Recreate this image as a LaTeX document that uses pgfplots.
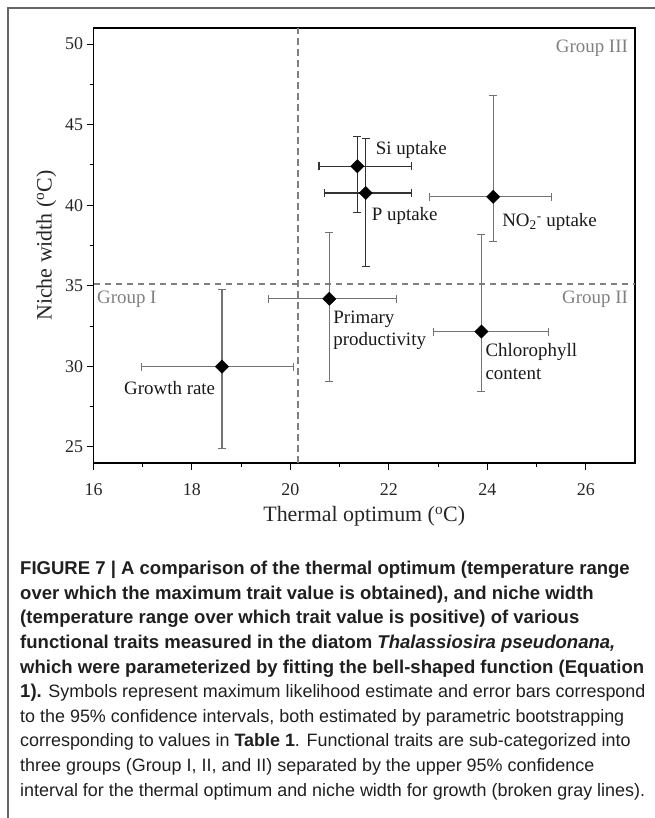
\documentclass[border=0pt]{standalone}
\usepackage{pgfplots}
\pgfplotsset{compat=1.18}
\usepackage{pgfplotstable}
\usepackage{fontspec}
\setmainfont{Liberation Serif}
\newfontfamily\capfont{Liberation Sans}

\pgfplotstableread{
x     y      exp   exm   eyp   eym
18.61 29.98  1.45  1.64  4.79  5.10
20.79 34.19  1.37  1.24  4.14  5.14
23.88 32.16  1.37  0.98  6.01  3.73
24.12 40.52  1.18  1.30  6.31  2.80
}\graytraits
\pgfplotstableread{
x     y      exp   exm   eyp   eym
21.36 42.42  1.10  0.78  1.82  2.90
21.53 40.76  0.93  0.84  3.38  4.59
}\darktraits

\newcommand\bl[1]{{\fontsize{18.6}{24.7}\selectfont\bfseries #1}}

\begin{document}
\begin{tikzpicture}[x=1bp,y=1bp]
\useasboundingbox (0,0) rectangle (655,818);
\draw[black!60, line width=1.2bp] (8,0) -- (8,810) -- (655,810);
\begin{axis}[
  at={(93.5bp,355bp)}, anchor=south west, scale only axis,
  width=541.5bp, height=435bp,
  xmin=16, xmax=27, ymin=24, ymax=51,
  xtick={16,18,...,26}, ytick={25,30,...,50},
  minor x tick num=1, minor y tick num=1,
  tick pos=left, tick align=outside,
  major tick length=7bp, minor tick length=4bp,
  axis line style={line width=1.3bp},
  every tick/.style={black, line width=1bp},
  tick label style={font=\fontsize{18}{20}\selectfont, text=black!85},
  xticklabel style={font=\fontsize{18}{20}\selectfont, yshift=-10bp},
  yticklabel style={font=\fontsize{18}{20}\selectfont},
  /pgf/number format/assume math mode=true,
  xlabel={Thermal optimum (\textsuperscript{o}C)},
  ylabel={Niche width (\textsuperscript{o}C)},
  label style={font=\fontsize{22}{24}\selectfont, text=black!85},
  xlabel style={at={(axis description cs:0.5,-0.1356)}, anchor=base},
  ylabel style={at={(axis description cs:-0.0775,0.5)}, anchor=base},
  clip=false,
]
\addplot[black!50, line width=1.6bp, dash pattern=on 6.5bp off 4.5bp] coordinates {(20.16,24) (20.16,51)};
\addplot[black!50, line width=1.6bp, dash pattern=on 6.5bp off 4.5bp] coordinates {(16,35.1) (27,35.1)};

\addplot[only marks, mark=square*, mark size=4.7bp, mark options={rotate=45, black, solid},
  error bars/.cd, x dir=both, x explicit, y dir=both, y explicit,
  error bar style={black!55, line width=1.1bp},
  error mark options={rotate=90, black!55, line width=1.1bp, mark size=4bp}]
  table[x=x, y=y, x error plus=exp, x error minus=exm, y error plus=eyp, y error minus=eym] {\graytraits};
\addplot[only marks, mark=square*, mark size=4.7bp, mark options={rotate=45, black, solid},
  error bars/.cd, x dir=both, x explicit, y dir=both, y explicit,
  error bar style={black!80, line width=1.1bp},
  error mark options={rotate=90, black!80, line width=1.1bp, mark size=4bp}]
  table[x=x, y=y, x error plus=exp, x error minus=exm, y error plus=eyp, y error minus=eym] {\darktraits};

\begin{scope}[every node/.style={font=\fontsize{19}{23}\selectfont, inner sep=0pt, text=black!90}]
\node[anchor=west] at (axis cs:21.73,43.42) {Si uptake};
\node[anchor=west] at (axis cs:21.65,39.32) {P uptake};
\node[anchor=west] at (axis cs:24.30,38.96) {NO\textsubscript{2}\textsuperscript{-} uptake};
\node[anchor=west, align=left] at (axis cs:20.87,32.24) {Primary\\productivity};
\node[anchor=west, align=left] at (axis cs:23.96,30.28) {Chlorophyll\\content};
\node[anchor=west] at (axis cs:16.62,28.63) {Growth rate};
\node[anchor=west, text=black!50] at (axis cs:16.07,34.15) {Group I};
\node[anchor=east, text=black!50] at (axis cs:26.86,34.19) {Group II};
\node[anchor=east, text=black!50] at (axis cs:26.86,49.73) {Group III};
\end{scope}
\end{axis}

\node[anchor=north west, align=left, inner sep=0pt, text=black!88,
  font=\capfont\fontsize{18}{24.7}\selectfont] at (20,257) {%
\bl{FIGURE 7 | A comparison of the thermal optimum (temperature range}\\
\bl{over which the maximum trait value is obtained), and niche width}\\
\bl{(temperature range over which trait value is positive) of various}\\
\bl{functional traits measured in the diatom \textit{Thalassiosira pseudonana,}}\\
\bl{which were parameterized by fitting the bell-shaped function (Equation}\\
\bl{1).} Symbols represent maximum likelihood estimate and error bars correspond\\
to the 95\% confidence intervals, both estimated by parametric bootstrapping\\
corresponding to values in \textbf{Table 1}. Functional traits are sub-categorized into\\
three groups (Group I, II, and II) separated by the upper 95\% confidence\\
interval for the thermal optimum and niche width for growth (broken gray lines).};
\end{tikzpicture}
\end{document}
